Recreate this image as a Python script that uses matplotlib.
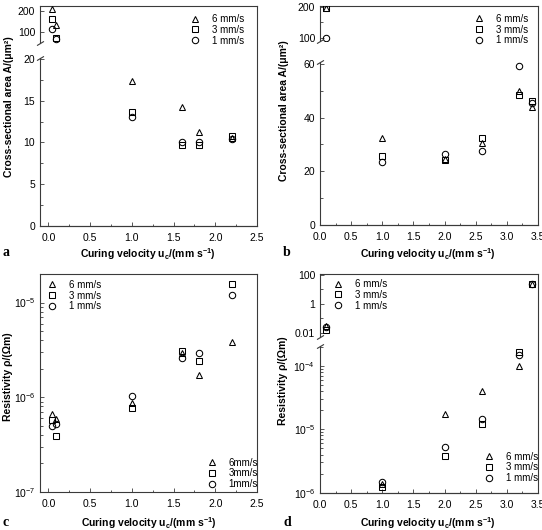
import matplotlib
matplotlib.use('Agg')
import matplotlib.pyplot as plt
from matplotlib.ticker import FixedLocator, FixedFormatter, NullFormatter, LogLocator, MultipleLocator

plt.rcParams['font.family'] = ['Liberation Sans', 'DejaVu Sans']
plt.rcParams['mathtext.fontset'] = 'custom'
plt.rcParams['mathtext.rm'] = 'Liberation Sans'
plt.rcParams['mathtext.bf'] = 'Liberation Sans:bold'
plt.rcParams['mathtext.it'] = 'Liberation Sans:italic'
plt.rcParams['mathtext.default'] = 'regular'

# ---------------- data ----------------
series = ['6 mm/s', '3 mm/s', '1 mm/s']
series_nospace = ['6mm/s', '3mm/s', '1mm/s']

a_x = [0.04, 0.09, 1.0, 1.6, 1.8, 2.2]
a_6 = [208, 134, 17.3, 14.2, 11.3, 10.5]
a_3 = [161, 72, 13.6, 9.7, 9.7, 10.8]
a_1 = [114, 69, 13.1, 10.1, 10.0, 10.4]

b_x = [0.1, 1.0, 2.0, 2.6, 3.2, 3.4]
b_6 = [197, 32.5, 24.5, 30.5, 50.0, 44.1]
b_3 = [197, 25.7, 24.2, 32.4, 48.5, 46.3]
b_1 = [100, 23.4, 26.5, 27.4, 59.3, 45.5]

c_x = [0.04, 0.09, 1.0, 1.6, 1.8, 2.2]
c_6 = [6.7e-7, 5.9e-7, 8.8e-7, 2.9e-6, 1.7e-6, 3.85e-6]
c_3 = [5.7e-7, 3.9e-7, 7.7e-7, 3.1e-6, 2.4e-6, 1.56e-5]
c_1 = [5.0e-7, 5.2e-7, 1.04e-6, 2.6e-6, 2.9e-6, 1.2e-5]

d_x = [0.1, 1.0, 2.0, 2.6, 3.2, 3.4]
d_6 = [0.032, 1.35e-6, 1.73e-5, 4.0e-5, 1.0e-4, 25]
d_3 = [0.015, 1.22e-6, 3.8e-6, 1.23e-5, 1.65e-4, 25]
d_1 = [0.024, 1.46e-6, 5.25e-6, 1.48e-5, 1.47e-4, 25]

markers = ['^', 's', 'o']

W, H = 542, 530
fig = plt.figure(figsize=(W / 100, H / 100), dpi=100)
SC = '#3a3a3a'
FS = 7.5


def rect(l, t, r, b):
    return [l / W, 1 - b / H, (r - l) / W, (b - t) / H]


def style(ax):
    ax.tick_params(which='major', direction='in', length=3, width=0.6,
                   labelsize=FS, colors=SC, labelcolor='black')
    ax.tick_params(axis='x', which='major', pad=5)
    ax.tick_params(axis='y', which='major', pad=3.5)
    ax.tick_params(which='minor', direction='in', length=1.8, width=0.6, colors=SC)
    for s in ax.spines.values():
        s.set_color(SC)
        s.set_linewidth(0.8)
    ax.patch.set_alpha(0)


def frame(l, t, r, b):
    fr = fig.add_axes(rect(l, t, r, b))
    fr.set_xticks([])
    fr.set_yticks([])
    fr.spines['left'].set_visible(False)
    for s in fr.spines.values():
        s.set_color(SC)
        s.set_linewidth(0.8)
    fr.patch.set_alpha(0)
    return fr


def brk(ax, y):
    ax.plot([0], [y], transform=ax.transAxes, marker=[(-1, -0.6), (1, 0.6)],
            markersize=5, mec=SC, mew=0.8, linestyle='none', clip_on=False)


def scatter(ax, xs, ys_list):
    hs = []
    for ys, m in zip(ys_list, markers):
        h, = ax.plot(xs, ys, linestyle='none', marker=m, ms=4.6, mfc='none',
                     mec='black', mew=0.75)
        hs.append(h)
    return hs


def legend(hs, labels, mx, my):
    fig.legend(hs, labels, loc='upper left',
               bbox_to_anchor=((mx - 4.9) / W, 1 - (my - 5.2) / H),
               frameon=False, fontsize=7, handlelength=1.0, handletextpad=1.25,
               labelspacing=0.08, borderpad=0, borderaxespad=0)


def xaxis_setup(ax, xmin, xmax):
    ax.set_xlim(xmin, xmax)
    ax.xaxis.set_major_locator(MultipleLocator(0.5))
    ax.xaxis.set_minor_locator(MultipleLocator(0.25))
    ax.xaxis.set_major_formatter(matplotlib.ticker.FormatStrFormatter('%.1f'))


# ---------------- panel a ----------------
frame(40, 6, 257, 226)
au = fig.add_axes(rect(40, 6, 257, 43))
al = fig.add_axes(rect(40, 58, 257, 226))
for ax in (au, al):
    style(ax)
    ax.spines['top'].set_visible(False)
    ax.spines['right'].set_visible(False)
au.spines['bottom'].set_visible(False)
au.tick_params(axis='x', which='both', bottom=False, labelbottom=False)
hs = scatter(au, a_x, [a_6, a_3, a_1])
scatter(al, a_x, [a_6, a_3, a_1])
xaxis_setup(au, -0.1, 2.5)
xaxis_setup(al, -0.1, 2.5)
au.set_ylim(50, 223)
au.yaxis.set_major_locator(FixedLocator([100, 200]))
al.set_ylim(0, 20.1)
al.yaxis.set_major_locator(MultipleLocator(5))
al.yaxis.set_minor_locator(MultipleLocator(2.5))
brk(au, 0)
brk(al, 1)
legend(hs, series, 195, 19.3)

# ---------------- panel b ----------------
frame(320, 6, 538, 225)
bu = fig.add_axes(rect(320, 6, 538, 41))
bl = fig.add_axes(rect(320, 62, 538, 225))
for ax in (bu, bl):
    style(ax)
    ax.spines['top'].set_visible(False)
    ax.spines['right'].set_visible(False)
bu.spines['bottom'].set_visible(False)
bu.tick_params(axis='x', which='both', bottom=False, labelbottom=False)
hs = scatter(bu, b_x, [b_6, b_3, b_1])
scatter(bl, b_x, [b_6, b_3, b_1])
xaxis_setup(bu, 0, 3.5)
xaxis_setup(bl, 0, 3.5)
bu.set_ylim(90, 203)
bu.yaxis.set_major_locator(FixedLocator([100, 200]))
bu.yaxis.set_minor_locator(FixedLocator([150]))
bl.set_ylim(0, 60.7)
bl.yaxis.set_major_locator(MultipleLocator(20))
bl.yaxis.set_minor_locator(MultipleLocator(10))
brk(bu, 0)
brk(bl, 1)
legend(hs, series, 479.3, 19)

# ---------------- panel c ----------------
ac = fig.add_axes(rect(40, 274, 257, 492))
style(ac)
hs = scatter(ac, c_x, [c_6, c_3, c_1])
ac.set_yscale('log')
ac.set_ylim(1e-7, 2e-5)
ac.yaxis.set_major_locator(LogLocator(base=10, numticks=10))
ac.yaxis.set_minor_locator(LogLocator(base=10, subs=range(2, 10), numticks=20))
ac.yaxis.set_minor_formatter(NullFormatter())
xaxis_setup(ac, -0.1, 2.5)
ac.tick_params(which='both', top=False, right=False)
legend(hs, series, 51.7, 285)
legend(hs, series_nospace, 211.7, 462.7)

# ---------------- panel d ----------------
frame(320, 274, 538, 492.7)
du = fig.add_axes(rect(320, 274, 538, 337))
dl = fig.add_axes(rect(320, 346, 538, 492.7))
for ax in (du, dl):
    style(ax)
    ax.spines['top'].set_visible(False)
    ax.spines['right'].set_visible(False)
du.spines['bottom'].set_visible(False)
du.tick_params(axis='x', which='both', bottom=False, labelbottom=False)
hs = scatter(du, d_x, [d_6, d_3, d_1])
scatter(dl, d_x, [d_6, d_3, d_1])
xaxis_setup(du, 0, 3.5)
xaxis_setup(dl, 0, 3.5)
du.set_yscale('log')
du.set_ylim(0.0053, 117)
du.yaxis.set_major_locator(FixedLocator([0.01, 1, 100]))
du.yaxis.set_major_formatter(FixedFormatter(['0.01', '1', '100']))
du.yaxis.set_minor_locator(FixedLocator([0.1, 10]))
du.yaxis.set_minor_formatter(NullFormatter())
dl.set_yscale('log')
dl.set_ylim(1e-6, 2.07e-4)
dl.yaxis.set_major_locator(LogLocator(base=10, numticks=10))
dl.yaxis.set_minor_locator(LogLocator(base=10, subs=range(2, 10), numticks=20))
dl.yaxis.set_minor_formatter(NullFormatter())
brk(du, 0)
brk(dl, 1)
legend(hs, series, 337.7, 284.3)
legend(hs, series, 489.3, 456.7)

# ---------------- labels ----------------
xlab = r'Curing velocity u$_\mathbf{c}$/(mm s$^\mathbf{-1}$)'
for (cx, cy) in [(148, 254), (428, 254), (149, 523), (428, 523)]:
    fig.text(cx / W, 1 - cy / H, xlab, ha='center', va='center',
             fontsize=FS, fontweight='bold')

ylab_a = 'Cross-sectional area A/(\u03bcm\u00b2)'
fig.text(9 / W, 1 - 107 / H, ylab_a, rotation=90, ha='center', va='center',
         fontsize=FS, fontweight='bold')
fig.text(284 / W, 1 - 111 / H, ylab_a, rotation=90, ha='center', va='center',
         fontsize=FS, fontweight='bold')
ylab_r = 'Resistivity \u03c1/(\u03a9m)'
fig.text(8 / W, 1 - 377 / H, ylab_r, rotation=90, ha='center', va='center',
         fontsize=FS, fontweight='bold')
fig.text(283 / W, 1 - 381 / H, ylab_r, rotation=90, ha='center', va='center',
         fontsize=FS, fontweight='bold')

for (lx, ly, t) in [(6, 253, 'a'), (287, 253, 'b'), (6, 523, 'c'), (287, 523, 'd')]:
    fig.text(lx / W, 1 - ly / H, t, ha='center', va='center', fontsize=10,
             fontweight='bold', family=['Liberation Serif', 'DejaVu Serif'])

fig.savefig('out.png', dpi=100)
